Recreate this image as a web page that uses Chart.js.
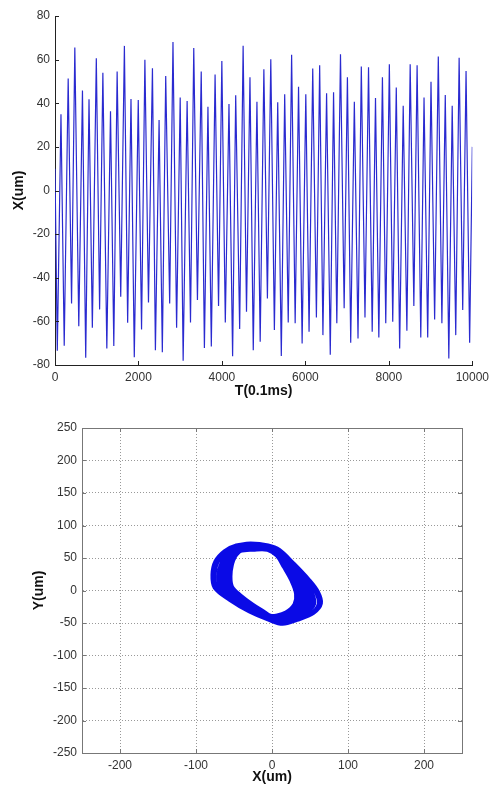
<!DOCTYPE html>
<html>
<head>
<meta charset="utf-8">
<script src="https://cdn.jsdelivr.net/npm/chart.js@4.4.0/dist/chart.umd.min.js"></script>
<style>
  html, body { margin: 0; padding: 0; background: #fff; }
  #wrap { position: relative; width: 494px; height: 785px; }
  .box { position: absolute; left: 0; width: 494px; }
  #top { top: 0; height: 400px; }
  #bottom { top: 400px; height: 385px; }
</style>
</head>
<body>
<div id="wrap">
  <div class="box" id="top"><canvas id="timeChart"></canvas></div>
  <div class="box" id="bottom"><canvas id="orbitChart"></canvas></div>
</div>
<script>
// time trace: peaks / troughs (T in 0.1ms, X in um)
const timeT = [0,
  55, 143, 221, 316, 397, 475, 570, 658, 736, 815,
  895, 990, 1069, 1147, 1242, 1330, 1409, 1489, 1575, 1663,
  1741, 1821, 1900, 1995, 2074, 2154, 2240, 2335, 2406, 2494,
  2572, 2653, 2748, 2827, 2914, 3000, 3071, 3166, 3247, 3325,
  3413, 3504, 3580, 3665, 3746, 3836, 3919, 3998, 4081, 4169,
  4256, 4330, 4425, 4508, 4589, 4672, 4751, 4839, 4917, 5005,
  5090, 5171, 5257, 5337, 5423, 5504, 5589, 5670, 5755, 5836,
  5922, 6010, 6088, 6176, 6264, 6342, 6420, 6508, 6596, 6675,
  6753, 6841, 6929, 7007, 7086, 7173, 7261, 7340, 7428, 7513,
  7601, 7680, 7760, 7846, 7926, 8012, 8093, 8178, 8259, 8344,
  8432, 8511, 8599, 8677, 8765, 8843, 8931, 9010, 9097, 9185,
  9271, 9352, 9437, 9518, 9603, 9684, 9770, 9850, 9936, 10000];
const timeX = [10,
  -73.5, 35, -71.2, 51.3, -51.8, 65.5, -62.2, 45.8, -76.7, 41.8,
  -62.9, 60.6, -54.5, 54, -72.4, 36.3, -71.3, 54.5, -48.7, 66.3,
  -60.6, 42, -76.5, 41.5, -63.7, 59.9, -51.3, 56, -73.2, 32.3,
  -74.2, 52.5, -51.8, 68.1, -62.9, 42.6, -78.1, 41, -60.5, 65.3,
  -50.2, 54.6, -72.2, 38.4, -71.5, 53.2, -53, 59.4, -60.5, 39.6,
  -76, 43.7, -63.5, 66.4, -55.6, 51.9, -73.2, 40.7, -69.3, 55.6,
  -49.5, 60.2, -64, 40.5, -75.9, 44.1, -60.5, 62.2, -60.9, 47.6,
  -70.1, 44.1, -64.8, 55.9, -58.2, 57.4, -66.3, 44.6, -75.3, 45,
  -60.9, 62.5, -54, 51.9, -69.8, 40.7, -67.8, 56.8, -58.2, 56.5,
  -64.8, 42.4, -67.4, 51.9, -60.9, 57.9, -60.2, 47.2, -72.4, 38.8,
  -64.3, 57.9, -53, 57.4, -67.4, 42.6, -67.4, 49.9, -59.1, 61.4,
  -60.9, 43.8, -77, 38.9, -66.3, 60.9, -54.8, 54.8, -69.8, 20];
const tTicks = [0, 2000, 4000, 6000, 8000, 10000];
const xTicksTop = [-80, -60, -40, -20, 0, 20, 40, 60, 80];

// orbit: several passes round the loop, outer to inner (um)
const orbitX = [
  -48, -28, -5, 10, 28, 49, 61, 65, 55, 33, 14, -4, -30, -56, -76, -79, -75, -63,
  -47, -28, -5, 10, 27, 47, 59, 63, 53, 31, 13, -5, -30, -55, -74, -77, -73, -62,
  -47, -28, -5, 9, 26, 46, 57, 61, 51, 30, 12, -5, -30, -53, -72, -75, -71, -60,
  -46, -27, -5, 8, 24, 42, 53, 56, 46, 27, 10, -6, -29, -51, -68, -71, -67, -57,
  -45, -27, -5, 8, 23, 40, 50, 53, 43, 24, 8, -7, -28, -50, -66, -68, -65, -55,
  -45, -27, -5, 8, 22, 38, 48, 50, 40, 22, 7, -7, -28, -48, -64, -66, -63, -54,
  -44, -26, -5, 7, 21, 36, 45, 46, 37, 19, 6, -7, -27, -46, -62, -64, -61, -53,
  -44, -26, -5, 7, 20, 34, 42, 43, 34, 17, 5, -7, -27, -45, -60, -62, -59, -52,
  -43, -26, -5, 7, 19, 32, 39, 40, 30, 14, 4, -8, -27, -44, -58, -60, -57, -51,
  -43, -26, -6, 7, 18, 30, 37, 37, 27, 12, 3, -8, -26, -43, -56, -58, -56, -50,
  -42, -25, -6, 6, 16, 27, 34, 33, 22, 8, 0, -9, -26, -42, -54, -56, -54, -49,
  -42, -25, -6, 6, 15, 25, 31, 29, 18, 5, -2, -9, -25, -41, -52, -54, -52, -48, -42];
const orbitY = [
  70, 73, 70, 63, 43, 17, -2, -20, -35, -46, -52, -46, -33, -15, 4, 24, 45, 61,
  70, 72, 70, 62, 42, 17, -2, -20, -35, -45, -51, -45, -32, -14, 4, 24, 44, 60,
  69, 72, 69, 62, 42, 17, -2, -20, -35, -45, -50, -44, -31, -13, 5, 24, 44, 59,
  67, 70, 68, 60, 41, 17, -3, -21, -34, -43, -48, -42, -29, -11, 5, 23, 43, 58,
  66, 69, 67, 59, 40, 16, -3, -21, -34, -42, -46, -41, -28, -10, 6, 23, 42, 57,
  65, 68, 66, 58, 40, 16, -3, -21, -34, -42, -45, -40, -27, -9, 6, 23, 42, 57,
  64, 67, 65, 57, 39, 16, -3, -21, -34, -41, -44, -39, -26, -8, 6, 23, 41, 56,
  64, 66, 65, 57, 39, 16, -4, -21, -34, -41, -43, -38, -25, -8, 6, 23, 41, 55,
  63, 65, 64, 56, 38, 16, -4, -21, -33, -40, -42, -37, -24, -8, 6, 22, 40, 54,
  62, 64, 63, 55, 38, 16, -4, -21, -33, -40, -41, -36, -23, -7, 6, 22, 40, 54,
  61, 63, 62, 54, 37, 15, -5, -21, -33, -39, -40, -35, -22, -7, 6, 22, 40, 53,
  60, 62, 62, 53, 36, 15, -5, -21, -33, -38, -38, -33, -21, -7, 6, 22, 40, 52, 60];
const orbitTicksX = [-200, -100, 0, 100, 200];
const orbitTicksY = [-250, -200, -150, -100, -50, 0, 50, 100, 150, 200, 250];

const FONT = "'Liberation Sans', Arial, sans-serif";
const tickFont = { family: FONT, size: 12 };
const titleFont = { family: FONT, size: 14, weight: 'bold', lineHeight: 1.1 };
const plain = v => String(v);

// matlab style: ticks point inward, optional full box
const frame = {
  id: 'frame',
  afterDraw(chart, args, opts) {
    const { ctx, chartArea: a, scales } = chart;
    const len = 4;
    ctx.save();
    ctx.strokeStyle = opts.color;
    ctx.lineWidth = 1;
    ctx.beginPath();
    scales.x.ticks.forEach(t => {
      const p = Math.round(scales.x.getPixelForValue(t.value)) + 0.5;
      ctx.moveTo(p, a.bottom); ctx.lineTo(p, a.bottom - len);
      if (opts.box) { ctx.moveTo(p, a.top); ctx.lineTo(p, a.top + len); }
    });
    scales.y.ticks.forEach(t => {
      const p = Math.round(scales.y.getPixelForValue(t.value)) + 0.5;
      ctx.moveTo(a.left, p); ctx.lineTo(a.left + len, p);
      if (opts.box) { ctx.moveTo(a.right, p); ctx.lineTo(a.right - len, p); }
    });
    ctx.stroke();
    if (opts.box) ctx.strokeRect(Math.round(a.left) + 0.5, Math.round(a.top) + 0.5, Math.round(a.width), Math.round(a.height));
    ctx.restore();
  }
};

new Chart(document.getElementById('timeChart'), {
  type: 'line',
  data: {
    datasets: [{
      data: timeT.map((t, i) => ({ x: t, y: timeX[i] })),
      borderColor: '#2a2ad0',
      borderWidth: 1.2,
      pointRadius: 0,
      fill: false
    }]
  },
  options: {
    responsive: true,
    maintainAspectRatio: false,
    animation: false,
    layout: { padding: { left: 0, top: 16, right: 18, bottom: 0 } },
    plugins: { legend: { display: false }, tooltip: { enabled: false }, frame: { color: '#222', box: false } },
    scales: {
      x: {
        type: 'linear', min: 0, max: 10000,
        afterBuildTicks: s => { s.ticks = tTicks.map(v => ({ value: v })); },
        afterFit: s => { s.height = 35; },
        grid: { display: false, drawTicks: false },
        border: { display: true, color: '#222' },
        ticks: { padding: 5, color: '#333', font: tickFont, maxRotation: 0, autoSkip: false, callback: plain },
        title: { display: true, text: 'T(0.1ms)', color: '#111', font: titleFont, padding: { top: 0, bottom: 1 } }
      },
      y: {
        min: -80, max: 80,
        afterBuildTicks: s => { s.ticks = xTicksTop.map(v => ({ value: v })); },
        afterFit: s => { s.width = 55; },
        grid: { display: false, drawTicks: false },
        border: { display: true, color: '#222' },
        ticks: { padding: 5, color: '#333', font: tickFont, callback: plain },
        title: { display: true, text: 'X(um)', color: '#111', font: titleFont, padding: { top: 11, bottom: 0 } }
      }
    }
  },
  plugins: [frame]
});

new Chart(document.getElementById('orbitChart'), {
  type: 'scatter',
  data: {
    datasets: [{
      data: orbitX.map((x, i) => ({ x: x, y: orbitY[i] })),
      showLine: true,
      borderColor: '#0a0ae6',
      borderWidth: 3,
      tension: 0.35,
      pointRadius: 0,
      fill: false
    }]
  },
  options: {
    responsive: true,
    maintainAspectRatio: false,
    animation: false,
    layout: { padding: { left: 0, top: 28, right: 32, bottom: 0 } },
    plugins: { legend: { display: false }, tooltip: { enabled: false }, frame: { color: '#777', box: true } },
    scales: {
      x: {
        type: 'linear', min: -250, max: 250,
        afterBuildTicks: s => { s.ticks = orbitTicksX.map(v => ({ value: v })); },
        afterFit: s => { s.height = 32; },
        grid: { color: '#999', drawTicks: false },
        border: { display: true, color: '#777', dash: [1, 2] },
        ticks: { padding: 5, color: '#333', font: tickFont, maxRotation: 0, autoSkip: false, callback: plain },
        title: { display: true, text: 'X(um)', color: '#111', font: titleFont, padding: { top: 0, bottom: 0 } }
      },
      y: {
        min: -250, max: 250,
        afterBuildTicks: s => { s.ticks = orbitTicksY.map(v => ({ value: v })); },
        afterFit: s => { s.width = 82; },
        grid: { color: '#999', drawTicks: false },
        border: { display: true, color: '#777', dash: [1, 2] },
        ticks: { padding: 5, color: '#333', font: tickFont, autoSkip: false, callback: plain },
        title: { display: true, text: 'Y(um)', color: '#111', font: titleFont, padding: { top: 31, bottom: 0 } }
      }
    }
  },
  plugins: [frame]
});
</script>
</body>
</html>
